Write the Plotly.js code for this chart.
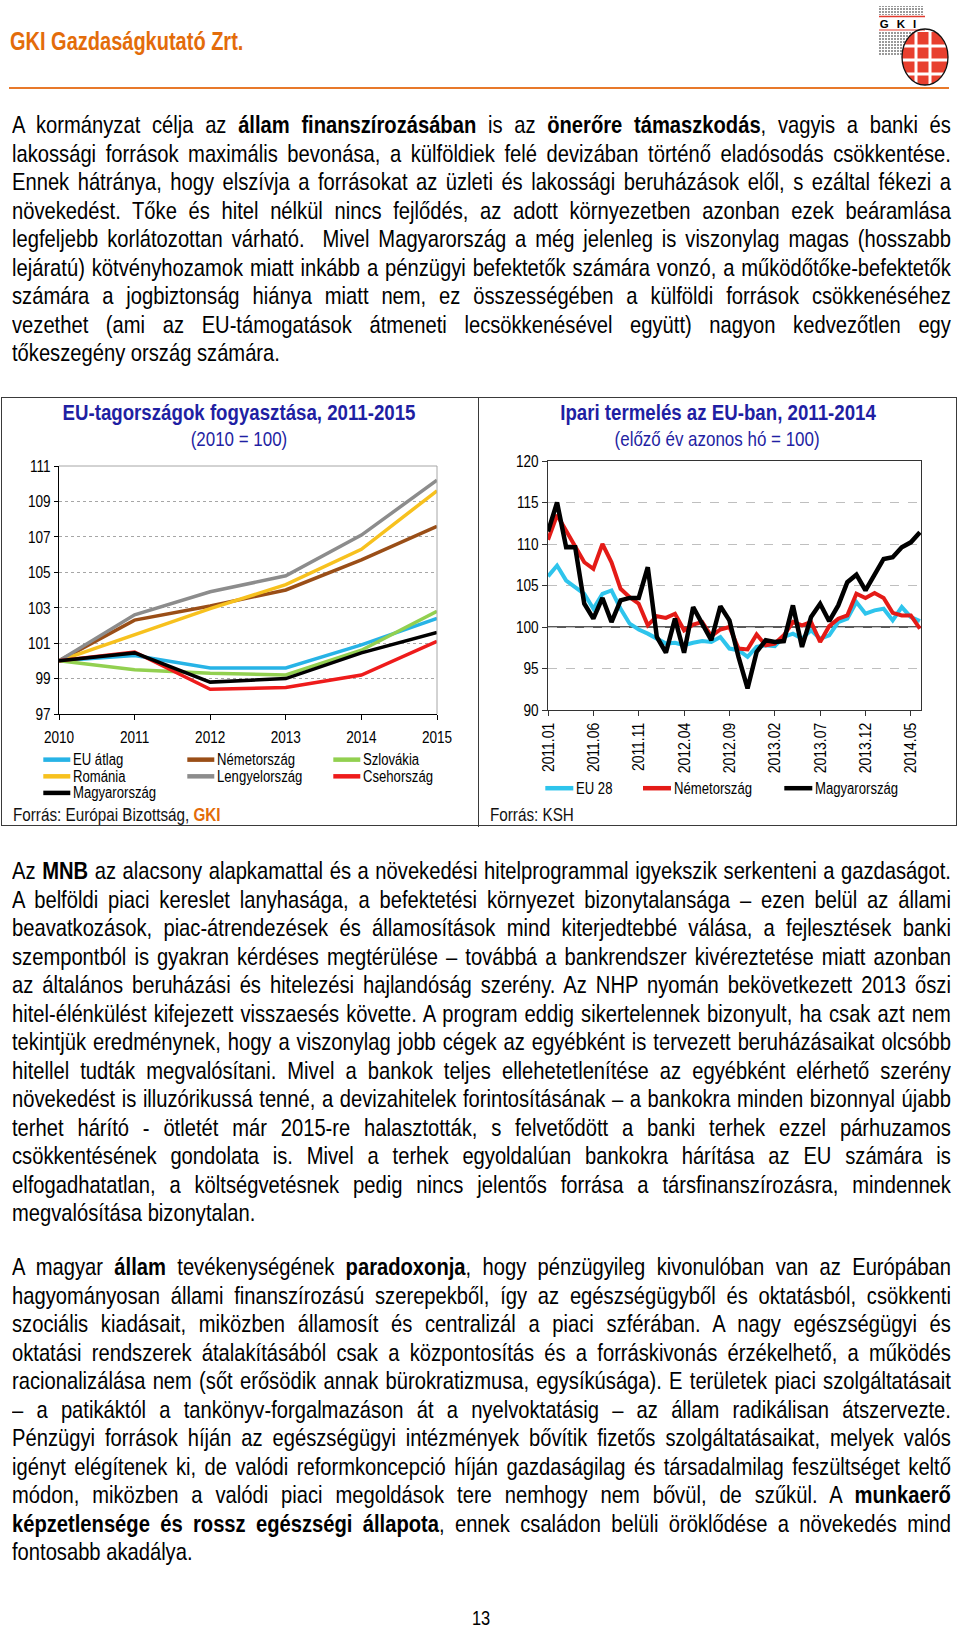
<!DOCTYPE html>
<html><head><meta charset="utf-8">
<script src="https://cdn.plot.ly/plotly-3.0.1.min.js"></script>
<style>
html,body{margin:0;padding:0;background:#fff;}
body{width:960px;height:1629px;position:relative;overflow:hidden;font-family:'Liberation Sans',Arial,sans-serif;color:#000;}
.hdr{position:absolute;left:10px;top:26px;font-weight:bold;font-size:25px;color:#E36C0A;line-height:30px;white-space:nowrap;transform:scaleX(0.8);transform-origin:0 0;}
.orange{position:absolute;left:9px;top:86.5px;width:940px;height:2.5px;background:#E8792A;}
.para{position:absolute;left:12px;width:1145px;font-size:24.6px;line-height:28.5px;transform:scaleX(0.82);transform-origin:0 0;}
.ln{text-align:justify;text-align-last:justify;white-space:nowrap;height:28.5px;}
.ln.last{text-align-last:left;}
.box{position:absolute;left:0.5px;top:396.5px;width:954px;height:427px;border:1.5px solid #3a3a3a;z-index:5;pointer-events:none;}
.div{position:absolute;left:477.5px;top:396.5px;width:1.5px;height:430px;background:#3a3a3a;z-index:5;}
#chartL{position:absolute;left:1px;top:397px;width:476px;height:428px;}
#chartR{position:absolute;left:481px;top:397px;width:474px;height:428px;}
.pg{position:absolute;left:0;width:962px;top:1606px;text-align:center;font-size:20px;line-height:24px;}
.pg span{display:inline-block;transform:scaleX(0.82);}
</style></head>
<body>
<div class="hdr">GKI Gazdaságkutató Zrt.</div>
<svg style="position:absolute;left:870px;top:2px" width="82" height="86">
  <defs>
    <pattern id="gp" width="3" height="3" patternUnits="userSpaceOnUse"><rect width="2" height="2" fill="#9a9a9a"/></pattern>
    <clipPath id="ec"><ellipse cx="55" cy="55" rx="23" ry="28"/></clipPath>
  </defs>
  <rect x="9" y="4" width="45" height="9" fill="url(#gp)"/>
  <line x1="9" y1="14.5" x2="55" y2="14.5" stroke="#e23b2e" stroke-width="1.5"/>
  <text x="32" y="25.5" text-anchor="middle" font-family="Liberation Sans, Arial" font-weight="bold" font-size="11.5" letter-spacing="8">GKI</text>
  <line x1="9" y1="28" x2="55" y2="28" stroke="#e23b2e" stroke-width="1"/>
  <rect x="9" y="30" width="36" height="24" fill="url(#gp)"/>
  <g clip-path="url(#ec)">
    <rect x="32" y="30" width="50" height="56" fill="#e8402f"/>
    <g stroke="#fff" stroke-width="3">
      <line x1="46" y1="26" x2="46" y2="86"/><line x1="60" y1="26" x2="60" y2="86"/>
      <line x1="30" y1="44" x2="82" y2="44"/><line x1="30" y1="58" x2="82" y2="58"/><line x1="30" y1="72" x2="82" y2="72"/>
    </g>
  </g>
  <ellipse cx="55" cy="55" rx="23" ry="28" fill="none" stroke="#111" stroke-width="1.3"/>
</svg>
<div class="orange"></div>

<div class="para" style="top:111px">
<div class="ln">A kormányzat célja az <b>állam finanszírozásában</b> is az <b>önerőre támaszkodás</b>, vagyis a banki és</div>
<div class="ln">lakossági források maximális bevonása, a külföldiek felé devizában történő eladósodás csökkentése.</div>
<div class="ln">Ennek hátránya, hogy elszívja a forrásokat az üzleti és lakossági beruházások elől, s ezáltal fékezi a</div>
<div class="ln">növekedést. Tőke és hitel nélkül nincs fejlődés, az adott környezetben azonban ezek beáramlása</div>
<div class="ln">legfeljebb korlátozottan várható.&nbsp; Mivel Magyarország a még jelenleg is viszonylag magas (hosszabb</div>
<div class="ln">lejáratú) kötvényhozamok miatt inkább a pénzügyi befektetők számára vonzó, a működőtőke-befektetők</div>
<div class="ln">számára a jogbiztonság hiánya miatt nem, ez összességében a külföldi források csökkenéséhez</div>
<div class="ln">vezethet (ami az EU-támogatások átmeneti lecsökkenésével együtt) nagyon kedvezőtlen egy</div>
<div class="ln last">tőkeszegény ország számára.</div>
</div>

<div id="chartL"></div>
<div id="chartR"></div>
<div class="box"></div>
<div class="div"></div>

<div class="para" style="top:857px">
<div class="ln">Az <b>MNB</b> az alacsony alapkamattal és a növekedési hitelprogrammal igyekszik serkenteni a gazdaságot.</div>
<div class="ln">A belföldi piaci kereslet lanyhasága, a befektetési környezet bizonytalansága – ezen belül az állami</div>
<div class="ln">beavatkozások, piac-átrendezések és államosítások mind kiterjedtebbé válása, a fejlesztések banki</div>
<div class="ln">szempontból is gyakran kérdéses megtérülése – továbbá a bankrendszer kivéreztetése miatt azonban</div>
<div class="ln">az általános beruházási és hitelezési hajlandóság szerény. Az NHP nyomán bekövetkezett 2013 őszi</div>
<div class="ln">hitel-élénkülést kifejezett visszaesés követte. A program eddig sikertelennek bizonyult, ha csak azt nem</div>
<div class="ln">tekintjük eredménynek, hogy a viszonylag jobb cégek az egyébként is tervezett beruházásaikat olcsóbb</div>
<div class="ln">hitellel tudták megvalósítani. Mivel a bankok teljes ellehetetlenítése az egyébként elérhető szerény</div>
<div class="ln">növekedést is illuzórikussá tenné, a devizahitelek forintosításának – a bankokra minden bizonnyal újabb</div>
<div class="ln">terhet hárító - ötletét már 2015-re halasztották, s felvetődött a banki terhek ezzel párhuzamos</div>
<div class="ln">csökkentésének gondolata is. Mivel a terhek egyoldalúan bankokra hárítása az EU számára is</div>
<div class="ln">elfogadhatatlan, a költségvetésnek pedig nincs jelentős forrása a társfinanszírozásra, mindennek</div>
<div class="ln last">megvalósítása bizonytalan.</div>
</div>

<div class="para" style="top:1253px">
<div class="ln">A magyar <b>állam</b> tevékenységének <b>paradoxonja</b>, hogy pénzügyileg kivonulóban van az Európában</div>
<div class="ln">hagyományosan állami finanszírozású szerepekből, így az egészségügyből és oktatásból, csökkenti</div>
<div class="ln">szociális kiadásait, miközben államosít és centralizál a piaci szférában. A nagy egészségügyi és</div>
<div class="ln">oktatási rendszerek átalakításából csak a központosítás és a forráskivonás érzékelhető, a működés</div>
<div class="ln">racionalizálása nem (sőt erősödik annak bürokratizmusa, egysíkúsága). E területek piaci szolgáltatásait</div>
<div class="ln">– a patikáktól a tankönyv-forgalmazáson át a nyelvoktatásig – az állam radikálisan átszervezte.</div>
<div class="ln">Pénzügyi források híján az egészségügyi intézmények bővítik fizetős szolgáltatásaikat, melyek valós</div>
<div class="ln">igényt elégítenek ki, de valódi reformkoncepció híján gazdaságilag és társadalmilag feszültséget keltő</div>
<div class="ln">módon, miközben a valódi piaci megoldások tere nemhogy nem bővül, de szűkül. A <b>munkaerő</b></div>
<div class="ln"><b>képzetlensége és rossz egészségi állapota</b>, ennek családon belüli öröklődése a növekedés mind</div>
<div class="ln last">fontosabb akadálya.</div>
</div>

<div class="pg"><span>13</span></div>

<script>
// ---------- Left chart data: EU-tagországok fogyasztása (2010 = 100) ----------
const years = [2010, 2011, 2012, 2013, 2014, 2015];
const euAtlag = [100, 100.3, 99.6, 99.6, 100.9, 102.4];
const nemetorszagL = [100, 102.3, 103.1, 104.0, 105.7, 107.6];
const szlovakia = [100, 99.5, 99.3, 99.2, 100.6, 102.8];
const romania = [100, 101.5, 102.95, 104.3, 106.3, 109.6];
const lengyelorszag = [100, 102.6, 103.9, 104.8, 107.1, 110.2];
const csehorszag = [100, 100.5, 98.4, 98.5, 99.2, 101.1];
const magyarorszagL = [100, 100.45, 98.8, 99.0, 100.45, 101.6];
const leftNames = ['EU átlag', 'Németország', 'Szlovákia', 'Románia', 'Lengyelország', 'Csehország', 'Magyarország'];

// ---------- Right chart data: Ipari termelés (előző év azonos hó = 100) ----------
const months = ['2011.01','2011.02','2011.03','2011.04','2011.05','2011.06','2011.07','2011.08','2011.09','2011.10','2011.11','2011.12',
  '2012.01','2012.02','2012.03','2012.04','2012.05','2012.06','2012.07','2012.08','2012.09','2012.10','2012.11','2012.12',
  '2013.01','2013.02','2013.03','2013.04','2013.05','2013.06','2013.07','2013.08','2013.09','2013.10','2013.11','2013.12',
  '2014.01','2014.02','2014.03','2014.04','2014.05','2014.06'];
const monthTicks = ['2011.01','2011.06','2011.11','2012.04','2012.09','2013.02','2013.07','2013.12','2014.05'];
const eu28 = [106.1,107.4,105.6,104.8,104.0,102.2,104.0,104.4,102.2,100.4,99.7,99.2,
  98.6,98.0,98.1,97.8,98.1,98.3,98.2,98.8,97.4,97.2,96.4,97.6,
  97.8,97.7,98.8,99.2,98.6,99.6,98.6,99.0,100.6,101.0,103.0,101.6,
  102.0,102.2,100.8,102.4,101.2,100.7];
const nemetorszagR = [110.5,113.5,111.6,109.8,107.8,107.0,110.0,107.8,104.6,103.6,102.8,100.2,
  101.3,101.1,101.6,99.6,100.3,100.6,98.9,99.7,100.0,97.4,97.3,99.1,
  97.8,98.0,99.0,100.6,100.2,100.6,98.2,100.1,101.0,101.4,104.0,103.5,
  104.1,103.5,101.7,101.4,101.4,99.8];
const magyarorszagR = [111.5,115.0,109.6,109.6,102.8,101.0,103.5,100.6,103.2,103.5,103.5,107.2,
  98.8,96.9,101.0,96.9,102.4,100.4,98.4,102.5,100.8,96.4,92.6,97.0,
  98.4,98.2,98.3,102.6,97.6,101.2,102.8,100.7,102.6,105.4,106.3,104.4,
  106.4,108.2,108.4,109.6,110.2,111.4];
const rightNames = ['EU 28', 'Németország', 'Magyarország'];

// ---------- Styles ----------
const FN = "'Liberation Sans', Arial, sans-serif";
const NARROW = 0.82; // Arial Narrow look: Arial metrics squeezed horizontally
const BLUE = '#1F1FA3';
const ORANGE = '#E36C0A';
const leftColors = ['#27B3E6', '#9A4E17', '#92D050', '#F7C11E', '#8C8C8C', '#EE1B1B', '#000000'];
const rightColors = ['#2EC4EC', '#E41B17', '#000000'];

function px2x(m, px) { return (px - m.l) / (m.w - m.l - m.r); }
function px2y(m, py) { return 1 - (py - m.t) / (m.h - m.t - m.b); }
function condense(gd) {
  gd.querySelectorAll('svg text').forEach(t => {
    const x = parseFloat(t.getAttribute('x')) || 0;
    const tr = t.getAttribute('transform') || '';
    t.setAttribute('transform', tr + ' translate(' + x + ',0) scale(' + NARROW + ',1) translate(' + (-x) + ',0)');
  });
}

// ---------- Left chart ----------
const LM = {l: 57.7, r: 40.3, t: 69, b: 110.7, w: 476, h: 428};
const leftSeries = [euAtlag, nemetorszagL, szlovakia, romania, lengyelorszag, csehorszag, magyarorszagL];
const lTraces = leftSeries.map((ys, i) => ({
  x: years, y: ys, type: 'scatter', mode: 'lines', name: leftNames[i], showlegend: false,
  line: {color: leftColors[i], width: 3.5}
}));
const lShapes = [
  {type: 'line', xref: 'paper', yref: 'paper', x0: 0, x1: 1, y0: 1, y1: 1, line: {color: '#A6A6A6', width: 1}},
  {type: 'line', xref: 'paper', yref: 'paper', x0: 1, x1: 1, y0: 0, y1: 1, line: {color: '#A6A6A6', width: 1}}
];
const lAnn = [
  {xref: 'paper', yref: 'paper', x: px2x(LM, 238), y: px2y(LM, 41.3), xanchor: 'center', yanchor: 'middle', showarrow: false,
   text: '(2010 = 100)', font: {family: FN, size: 20.7, color: BLUE}},
  {xref: 'paper', yref: 'paper', x: px2x(LM, 10), y: px2y(LM, 418), xanchor: 'left', yanchor: 'middle', align: 'left', showarrow: false,
   text: 'Forrás: Európai Bizottság, <span style="color:' + ORANGE + '"><b>GKI</b></span>', font: {family: FN, size: 18.6, color: '#111'}}
];
const lColX = [42, 186, 332], lRowY = [363, 379.7, 396.3];
leftNames.forEach((nm, i) => {
  const c = i % 3, r = Math.floor(i / 3);
  lShapes.push({type: 'line', xref: 'paper', yref: 'paper', x0: px2x(LM, lColX[c]), x1: px2x(LM, lColX[c] + 27),
    y0: px2y(LM, lRowY[r]), y1: px2y(LM, lRowY[r]), line: {color: leftColors[i], width: 4.5}});
  lAnn.push({xref: 'paper', yref: 'paper', x: px2x(LM, lColX[c] + 27.5), y: px2y(LM, lRowY[r]), xanchor: 'left', yanchor: 'middle',
    align: 'left', showarrow: false, text: nm, font: {family: FN, size: 16, color: '#000'}});
});
Plotly.newPlot('chartL', lTraces, {
  width: LM.w, height: LM.h, margin: {l: LM.l, r: LM.r, t: LM.t, b: LM.b, pad: 0},
  paper_bgcolor: 'rgba(0,0,0,0)', plot_bgcolor: 'rgba(0,0,0,0)', showlegend: false,
  title: {text: '<b>EU-tagországok fogyasztása, 2011-2015</b>', font: {family: FN, size: 22.8, color: BLUE},
    x: 0.5, xref: 'container', xanchor: 'center', y: 1 - 14.7 / LM.h, yref: 'container', yanchor: 'middle'},
  xaxis: {range: [2010, 2015], tickvals: years, ticks: 'outside', ticklen: 5, tickcolor: '#000', tickwidth: 1,
    showline: true, linecolor: '#000', linewidth: 1, showgrid: false, zeroline: false,
    tickfont: {family: FN, size: 16.6, color: '#000'}, ticklabelstandoff: 3, fixedrange: true},
  yaxis: {range: [97, 111], tick0: 97, dtick: 2, ticks: 'outside', ticklen: 4, tickcolor: '#000', tickwidth: 1,
    showline: true, linecolor: '#000', linewidth: 1, showgrid: true, gridcolor: '#A6A6A6', griddash: 'dot', gridwidth: 1,
    zeroline: false, tickfont: {family: FN, size: 16.6, color: '#000'}, fixedrange: true},
  shapes: lShapes, annotations: lAnn
}, {staticPlot: true, displayModeBar: false}).then(condense);

// ---------- Right chart ----------
const RM = {l: 66.7, r: 34.3, t: 63.7, b: 115, w: 474, h: 428};
const rightSeries = [eu28, nemetorszagR, magyarorszagR];
const rWidths = [4, 4, 4.5];
const rTraces = rightSeries.map((ys, i) => ({
  x: months, y: ys, type: 'scatter', mode: 'lines', name: rightNames[i], showlegend: false,
  line: {color: rightColors[i], width: rWidths[i]}
}));
const rShapes = [
  {type: 'line', xref: 'paper', yref: 'y', x0: 0, x1: 1, y0: 100, y1: 100, layer: 'below', line: {color: '#222', width: 1.5}}
];
const rAnn = [
  {xref: 'paper', yref: 'paper', x: px2x(RM, 236), y: px2y(RM, 41.3), xanchor: 'center', yanchor: 'middle', showarrow: false,
   text: '(előző év azonos hó = 100)', font: {family: FN, size: 20.7, color: BLUE}},
  {xref: 'paper', yref: 'paper', x: px2x(RM, 7), y: px2y(RM, 418), xanchor: 'left', yanchor: 'middle', align: 'left', showarrow: false,
   text: 'Forrás: KSH', font: {family: FN, size: 18.6, color: '#111'}}
];
const rColX = [64, 161.7, 303];
rightNames.forEach((nm, i) => {
  const y = px2y(RM, 391.3);
  rShapes.push({type: 'line', xref: 'paper', yref: 'paper', x0: px2x(RM, rColX[i]), x1: px2x(RM, rColX[i] + 28),
    y0: y, y1: y, line: {color: rightColors[i], width: 4.5}});
  rAnn.push({xref: 'paper', yref: 'paper', x: px2x(RM, rColX[i] + 28.5), y: y, xanchor: 'left', yanchor: 'middle',
    align: 'left', showarrow: false, text: nm, font: {family: FN, size: 16, color: '#000'}});
});
Plotly.newPlot('chartR', rTraces, {
  width: RM.w, height: RM.h, margin: {l: RM.l, r: RM.r, t: RM.t, b: RM.b, pad: 0},
  paper_bgcolor: 'rgba(0,0,0,0)', plot_bgcolor: 'rgba(0,0,0,0)', showlegend: false,
  title: {text: '<b>Ipari termelés az EU-ban, 2011-2014</b>', font: {family: FN, size: 22.8, color: BLUE},
    x: 0.5, xref: 'container', xanchor: 'center', y: 1 - 14.7 / RM.h, yref: 'container', yanchor: 'middle'},
  xaxis: {type: 'category', categoryorder: 'array', categoryarray: months, range: [0, 41.12],
    tickmode: 'array', tickvals: monthTicks, ticktext: monthTicks, tickangle: -90,
    ticks: 'outside', ticklen: 5, tickcolor: '#333', tickwidth: 1,
    showline: true, mirror: true, linecolor: '#333', linewidth: 1, showgrid: false, zeroline: false,
    tickfont: {family: FN, size: 17, color: '#000'}, fixedrange: true},
  yaxis: {range: [90, 120], tick0: 90, dtick: 5, ticks: 'outside', ticklen: 5, tickcolor: '#333', tickwidth: 1,
    showline: true, mirror: true, linecolor: '#333', linewidth: 1, showgrid: true, gridcolor: '#BFBFBF', griddash: 'dash', gridwidth: 1,
    zeroline: false, tickfont: {family: FN, size: 16.6, color: '#000'}, fixedrange: true},
  shapes: rShapes, annotations: rAnn
}, {staticPlot: true, displayModeBar: false}).then(condense);
</script>
</body></html>
